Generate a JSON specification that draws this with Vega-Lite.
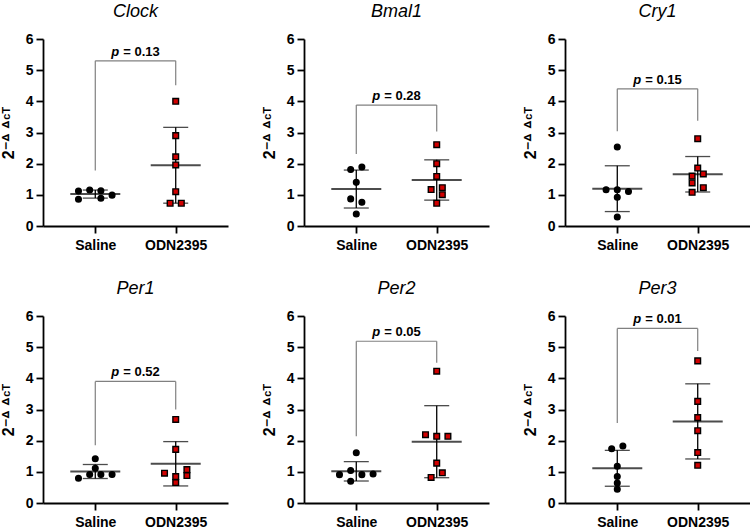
{
  "$schema": "https://vega.github.io/schema/vega-lite/v6.json",
  "padding": {"left": 0, "top": 3, "right": 0, "bottom": 0},
  "background": "white",
  "data": {"values": [
    {"gene":"Clock","kind":"pt","group":"Saline","value":1.12,"col":-3},
    {"gene":"Clock","kind":"pt","group":"Saline","value":1.155,"col":-1},
    {"gene":"Clock","kind":"pt","group":"Saline","value":1.13,"col":1},
    {"gene":"Clock","kind":"pt","group":"Saline","value":0.99,"col":3},
    {"gene":"Clock","kind":"pt","group":"Saline","value":0.86,"col":-3},
    {"gene":"Clock","kind":"pt","group":"Saline","value":0.89,"col":1},
    {"gene":"Clock","kind":"pt","group":"ODN2395","value":4.0,"col":0},
    {"gene":"Clock","kind":"pt","group":"ODN2395","value":2.9,"col":0},
    {"gene":"Clock","kind":"pt","group":"ODN2395","value":2.22,"col":0},
    {"gene":"Clock","kind":"pt","group":"ODN2395","value":1.96,"col":0},
    {"gene":"Clock","kind":"pt","group":"ODN2395","value":1.1,"col":0},
    {"gene":"Clock","kind":"pt","group":"ODN2395","value":0.73,"col":-1},
    {"gene":"Clock","kind":"pt","group":"ODN2395","value":0.73,"col":1},
    {"gene":"Bmal1","kind":"pt","group":"Saline","value":1.81,"col":-1},
    {"gene":"Bmal1","kind":"pt","group":"Saline","value":1.89,"col":1},
    {"gene":"Bmal1","kind":"pt","group":"Saline","value":1.4,"col":0},
    {"gene":"Bmal1","kind":"pt","group":"Saline","value":0.87,"col":-1},
    {"gene":"Bmal1","kind":"pt","group":"Saline","value":0.76,"col":1},
    {"gene":"Bmal1","kind":"pt","group":"Saline","value":0.385,"col":0},
    {"gene":"Bmal1","kind":"pt","group":"ODN2395","value":2.61,"col":0},
    {"gene":"Bmal1","kind":"pt","group":"ODN2395","value":2.0,"col":0},
    {"gene":"Bmal1","kind":"pt","group":"ODN2395","value":1.59,"col":0},
    {"gene":"Bmal1","kind":"pt","group":"ODN2395","value":1.17,"col":-1},
    {"gene":"Bmal1","kind":"pt","group":"ODN2395","value":1.23,"col":1},
    {"gene":"Bmal1","kind":"pt","group":"ODN2395","value":1.005,"col":1},
    {"gene":"Bmal1","kind":"pt","group":"ODN2395","value":0.73,"col":0},
    {"gene":"Cry1","kind":"pt","group":"Saline","value":2.535,"col":0},
    {"gene":"Cry1","kind":"pt","group":"Saline","value":1.166,"col":-2},
    {"gene":"Cry1","kind":"pt","group":"Saline","value":1.166,"col":0},
    {"gene":"Cry1","kind":"pt","group":"Saline","value":1.11,"col":2},
    {"gene":"Cry1","kind":"pt","group":"Saline","value":0.92,"col":0},
    {"gene":"Cry1","kind":"pt","group":"Saline","value":0.29,"col":0},
    {"gene":"Cry1","kind":"pt","group":"ODN2395","value":2.8,"col":0},
    {"gene":"Cry1","kind":"pt","group":"ODN2395","value":1.86,"col":0},
    {"gene":"Cry1","kind":"pt","group":"ODN2395","value":1.67,"col":1},
    {"gene":"Cry1","kind":"pt","group":"ODN2395","value":1.6,"col":-1},
    {"gene":"Cry1","kind":"pt","group":"ODN2395","value":1.38,"col":-1},
    {"gene":"Cry1","kind":"pt","group":"ODN2395","value":1.23,"col":1},
    {"gene":"Cry1","kind":"pt","group":"ODN2395","value":1.08,"col":-1},
    {"gene":"Per1","kind":"pt","group":"Saline","value":1.417,"col":0},
    {"gene":"Per1","kind":"pt","group":"Saline","value":1.116,"col":0},
    {"gene":"Per1","kind":"pt","group":"Saline","value":0.794,"col":-3},
    {"gene":"Per1","kind":"pt","group":"Saline","value":0.912,"col":-1},
    {"gene":"Per1","kind":"pt","group":"Saline","value":0.912,"col":1},
    {"gene":"Per1","kind":"pt","group":"Saline","value":0.912,"col":3},
    {"gene":"Per1","kind":"pt","group":"ODN2395","value":2.68,"col":0},
    {"gene":"Per1","kind":"pt","group":"ODN2395","value":1.72,"col":0},
    {"gene":"Per1","kind":"pt","group":"ODN2395","value":0.955,"col":-2},
    {"gene":"Per1","kind":"pt","group":"ODN2395","value":0.85,"col":0},
    {"gene":"Per1","kind":"pt","group":"ODN2395","value":0.655,"col":0},
    {"gene":"Per1","kind":"pt","group":"ODN2395","value":1.07,"col":2},
    {"gene":"Per1","kind":"pt","group":"ODN2395","value":0.88,"col":2},
    {"gene":"Per2","kind":"pt","group":"Saline","value":1.61,"col":0},
    {"gene":"Per2","kind":"pt","group":"Saline","value":1.04,"col":-1},
    {"gene":"Per2","kind":"pt","group":"Saline","value":0.91,"col":-3},
    {"gene":"Per2","kind":"pt","group":"Saline","value":0.91,"col":1},
    {"gene":"Per2","kind":"pt","group":"Saline","value":0.93,"col":3},
    {"gene":"Per2","kind":"pt","group":"Saline","value":0.7,"col":-1},
    {"gene":"Per2","kind":"pt","group":"ODN2395","value":4.23,"col":0},
    {"gene":"Per2","kind":"pt","group":"ODN2395","value":2.19,"col":-2},
    {"gene":"Per2","kind":"pt","group":"ODN2395","value":2.14,"col":0},
    {"gene":"Per2","kind":"pt","group":"ODN2395","value":2.14,"col":2},
    {"gene":"Per2","kind":"pt","group":"ODN2395","value":1.28,"col":0},
    {"gene":"Per2","kind":"pt","group":"ODN2395","value":0.97,"col":1},
    {"gene":"Per2","kind":"pt","group":"ODN2395","value":0.82,"col":-1},
    {"gene":"Per3","kind":"pt","group":"Saline","value":1.74,"col":-1},
    {"gene":"Per3","kind":"pt","group":"Saline","value":1.83,"col":1},
    {"gene":"Per3","kind":"pt","group":"Saline","value":1.18,"col":0},
    {"gene":"Per3","kind":"pt","group":"Saline","value":0.85,"col":0},
    {"gene":"Per3","kind":"pt","group":"Saline","value":0.64,"col":0},
    {"gene":"Per3","kind":"pt","group":"Saline","value":0.44,"col":0},
    {"gene":"Per3","kind":"pt","group":"ODN2395","value":4.56,"col":0},
    {"gene":"Per3","kind":"pt","group":"ODN2395","value":3.26,"col":0},
    {"gene":"Per3","kind":"pt","group":"ODN2395","value":2.74,"col":0},
    {"gene":"Per3","kind":"pt","group":"ODN2395","value":2.32,"col":0},
    {"gene":"Per3","kind":"pt","group":"ODN2395","value":1.62,"col":0},
    {"gene":"Per3","kind":"pt","group":"ODN2395","value":1.21,"col":0},
    {"gene":"Clock","kind":"bracket","g1":"Saline","g2":"ODN2395","top":5.3,"leftEnd":1.78,"rightEnd":4.52,"p":0.13},
    {"gene":"Bmal1","kind":"bracket","g1":"Saline","g2":"ODN2395","top":3.88,"leftEnd":2.31,"rightEnd":3.03,"p":0.28},
    {"gene":"Cry1","kind":"bracket","g1":"Saline","g2":"ODN2395","top":4.4,"leftEnd":3.04,"rightEnd":3.38,"p":0.15},
    {"gene":"Per1","kind":"bracket","g1":"Saline","g2":"ODN2395","top":3.9,"leftEnd":1.85,"rightEnd":3.0,"p":0.52},
    {"gene":"Per2","kind":"bracket","g1":"Saline","g2":"ODN2395","top":5.19,"leftEnd":2.14,"rightEnd":4.5,"p":0.05},
    {"gene":"Per3","kind":"bracket","g1":"Saline","g2":"ODN2395","top":5.6,"leftEnd":2.57,"rightEnd":4.88,"p":0.01}
  ]},
  "columns": 3,
  "facet": {
    "field": "gene", "type": "nominal",
    "sort": ["Clock","Bmal1","Cry1","Per1","Per2","Per3"],
    "header": {"title": null, "labelFont": "Liberation Sans", "labelFontSize": 18, "labelFontStyle": "italic", "labelColor": "black", "labelPadding": 11}
  },
  "spacing": {"column": 33, "row": 28},
  "resolve": {"axis": {"x": "independent", "y": "independent"}},
  "spec": {
    "width": 185,
    "height": 187,
    "layer": [
      {
        "transform": [{"filter": "datum.kind === 'bracket'"}],
        "mark": {"type": "rule", "color": "#808080", "strokeWidth": 1.2},
        "encoding": {
          "x": {"field": "g1", "type": "nominal", "scale": {"type": "point", "domain": ["Saline","ODN2395"], "padding": 0.65}, "title": null},
          "x2": {"field": "g2"},
          "y": {"field": "top", "type": "quantitative", "scale": {"domain": [0, 6]}, "title": "2⁻ᐞ ᐞᶜᵀ"}
        }
      },
      {
        "transform": [{"filter": "datum.kind === 'bracket'"}],
        "mark": {"type": "rule", "color": "#808080", "strokeWidth": 1.2},
        "encoding": {
          "x": {"field": "g1", "type": "nominal", "scale": {"type": "point", "domain": ["Saline","ODN2395"], "padding": 0.65}, "title": null},
          "y": {"field": "top", "type": "quantitative", "scale": {"domain": [0, 6]}, "title": "2⁻ᐞ ᐞᶜᵀ"},
          "y2": {"field": "leftEnd"}
        }
      },
      {
        "transform": [{"filter": "datum.kind === 'bracket'"}],
        "mark": {"type": "rule", "color": "#808080", "strokeWidth": 1.2},
        "encoding": {
          "x": {"field": "g2", "type": "nominal", "scale": {"type": "point", "domain": ["Saline","ODN2395"], "padding": 0.65}, "title": null},
          "y": {"field": "top", "type": "quantitative", "scale": {"domain": [0, 6]}, "title": "2⁻ᐞ ᐞᶜᵀ"},
          "y2": {"field": "rightEnd"}
        }
      },
      {
        "transform": [{"filter": "datum.kind === 'bracket'"}],
        "mark": {"type": "text", "text": "p", "font": "Liberation Sans", "fontSize": 13, "fontWeight": "bold", "fontStyle": "italic", "align": "left", "baseline": "alphabetic", "dx": 16, "dy": -5, "color": "black"},
        "encoding": {
          "x": {"field": "g1", "type": "nominal", "scale": {"type": "point", "domain": ["Saline","ODN2395"], "padding": 0.65}, "title": null},
          "y": {"field": "top", "type": "quantitative", "scale": {"domain": [0, 6]}, "title": "2⁻ᐞ ᐞᶜᵀ"}
        }
      },
      {
        "transform": [{"filter": "datum.kind === 'bracket'"}, {"calculate": "'= ' + format(datum.p, '.2f')", "as": "plab"}],
        "mark": {"type": "text", "font": "Liberation Sans", "fontSize": 13, "fontWeight": "bold", "align": "left", "baseline": "alphabetic", "dx": 28, "dy": -5, "color": "black"},
        "encoding": {
          "x": {"field": "g1", "type": "nominal", "scale": {"type": "point", "domain": ["Saline","ODN2395"], "padding": 0.65}, "title": null},
          "y": {"field": "top", "type": "quantitative", "scale": {"domain": [0, 6]}, "title": "2⁻ᐞ ᐞᶜᵀ"},
          "text": {"field": "plab"}
        }
      },
      {
        "transform": [
          {"filter": "datum.kind === 'pt'"},
          {"aggregate": [{"op": "mean", "field": "value", "as": "m"}, {"op": "stdev", "field": "value", "as": "sd"}], "groupby": ["gene", "group"]},
          {"calculate": "datum.m - datum.sd", "as": "lo"},
          {"calculate": "datum.m + datum.sd", "as": "hi"}
        ],
        "layer": [
          {
            "mark": {"type": "rule", "color": "black", "strokeWidth": 1.3},
            "encoding": {
              "x": {"field": "group", "type": "nominal", "scale": {"type": "point", "domain": ["Saline","ODN2395"], "padding": 0.65}, "title": null},
              "y": {"field": "lo", "type": "quantitative", "scale": {"domain": [0, 6]}, "title": "2⁻ᐞ ᐞᶜᵀ"},
              "y2": {"field": "hi"}
            }
          },
          {
            "mark": {"type": "tick", "color": "black", "size": 25, "thickness": 1.3},
            "encoding": {
              "x": {"field": "group", "type": "nominal", "scale": {"type": "point", "domain": ["Saline","ODN2395"], "padding": 0.65}, "title": null},
              "y": {"field": "hi", "type": "quantitative", "scale": {"domain": [0, 6]}, "title": "2⁻ᐞ ᐞᶜᵀ"}
            }
          },
          {
            "mark": {"type": "tick", "color": "black", "size": 25, "thickness": 1.3},
            "encoding": {
              "x": {"field": "group", "type": "nominal", "scale": {"type": "point", "domain": ["Saline","ODN2395"], "padding": 0.65}, "title": null},
              "y": {"field": "lo", "type": "quantitative", "scale": {"domain": [0, 6]}, "title": "2⁻ᐞ ᐞᶜᵀ"}
            }
          },
          {
            "mark": {"type": "tick", "color": "black", "size": 50, "thickness": 2},
            "encoding": {
              "x": {"field": "group", "type": "nominal", "scale": {"type": "point", "domain": ["Saline","ODN2395"], "padding": 0.65}, "title": null},
              "y": {"field": "m", "type": "quantitative", "scale": {"domain": [0, 6]}, "title": "2⁻ᐞ ᐞᶜᵀ"}
            }
          }
        ]
      },
      {
        "transform": [{"filter": "datum.kind === 'pt'"}],
        "mark": {"type": "point", "filled": true, "size": 32, "stroke": "black", "strokeWidth": 1.4, "opacity": 1},
        "encoding": {
          "x": {"field": "group", "type": "nominal", "scale": {"type": "point", "domain": ["Saline","ODN2395"], "padding": 0.65}, "title": null},
          "xOffset": {"field": "col", "type": "quantitative", "scale": {"domain": [-4, 4], "range": [-22.4, 22.4]}},
          "y": {"field": "value", "type": "quantitative", "scale": {"domain": [0, 6]}, "title": "2⁻ᐞ ᐞᶜᵀ"},
          "shape": {"field": "group", "type": "nominal", "scale": {"domain": ["Saline","ODN2395"], "range": ["circle","square"]}, "legend": null},
          "fill": {"field": "group", "type": "nominal", "scale": {"domain": ["Saline","ODN2395"], "range": ["black","#d10000"]}, "legend": null}
        }
      }
    ]
  },
  "config": {
    "view": {"stroke": null},
    "font": "Liberation Sans",
    "axis": {
      "labelFont": "Liberation Sans", "labelFontSize": 14, "labelFontWeight": "bold", "labelColor": "black",
      "domainColor": "black", "domainWidth": 1.8, "tickColor": "black", "tickWidth": 1.8, "tickSize": 7,
      "grid": false, "titleFont": "Liberation Sans", "titleFontSize": 16, "titleFontWeight": "bold", "titleColor": "black"
    },
    "axisX": {"labelPadding": 5, "labelAngle": 0},
    "axisY": {"values": [0, 1, 2, 3, 4, 5, 6], "labelPadding": 3, "titlePadding": 9}
  }
}
